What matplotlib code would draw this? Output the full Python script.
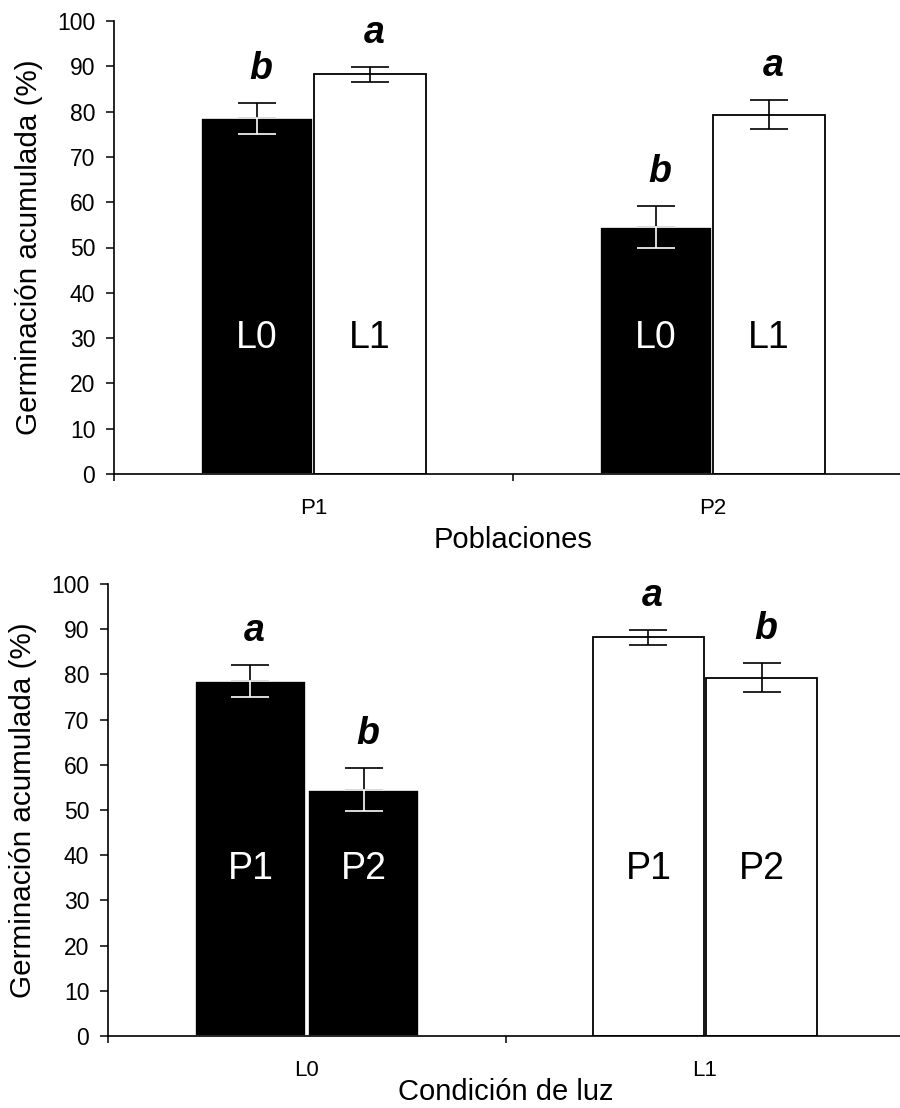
import numpy as np
import matplotlib
matplotlib.use('Agg')
from matplotlib import pyplot as plt
plt.rcParams['font.family'] = ['Liberation Sans', 'DejaVu Sans']

# datos (% germinacion acumulada, media y error)
poblaciones = ['P1', 'P2']
luz = ['L0', 'L1']
media_L0 = [78.5, 54.5]   # P1, P2
media_L1 = [88.2, 79.3]
err_L0 = [3.5, 4.7]
err_L1 = [1.7, 3.2]
letras_pob = {'L0': ['b', 'b'], 'L1': ['a', 'a']}      # panel superior
letras_luz = {'L0': ['a', 'b'], 'L1': ['a', 'b']}      # panel inferior

fig = plt.figure(figsize=(9, 11.08), dpi=100)
ax1 = fig.add_axes([114/900, 1-474/1108, 798/900, 453/1108])
ax2 = fig.add_axes([108/900, 1-1036/1108, 796/900, 452/1108])

ancho = 0.28
desp = 0.142


def barra(ax, x, y, e, negro, texto, letra, ytexto):
    if negro:
        ax.bar(x, y, ancho, color='black', edgecolor='white', linewidth=1.2, zorder=2)
        # parte superior del error en negro, inferior en blanco
        ax.errorbar(x, y, yerr=[[0], [e]], fmt='none', ecolor='black',
                    elinewidth=1.2, capsize=14, capthick=1.2, zorder=3)
        ax.errorbar(x, y, yerr=[[e], [0]], fmt='none', ecolor='white',
                    elinewidth=1.2, capsize=14, capthick=1.2, zorder=3)
        col = 'white'
    else:
        ax.bar(x, y, ancho, color='white', edgecolor='black', linewidth=1.3, zorder=2)
        ax.errorbar(x, y, yerr=e, fmt='none', ecolor='black',
                    elinewidth=1.2, capsize=14, capthick=1.2, zorder=3)
        col = 'black'
    ax.text(x, ytexto, texto, color=col, fontsize=27, ha='center', va='center', zorder=4)
    ax.text(x + 0.01, y + e + 5.3, letra, fontsize=27, fontweight='bold',
            fontstyle='italic', ha='center', va='baseline')


def ejes(ax, cats, xlabel, labelpad):
    ax.set_xlim(0, 2)
    ax.set_ylim(0, 100)
    ax.set_yticks(np.arange(0, 101, 10))
    ax.set_xticks([0, 1, 2])
    ax.set_xticklabels([])
    ax.set_xticks([0.5, 1.5], minor=True)
    ax.set_xticklabels(cats, minor=True, fontsize=16)
    ax.tick_params(axis='x', which='minor', length=0, pad=17)
    ax.tick_params(axis='x', which='major', direction='out', length=5, width=1.1)
    ax.tick_params(axis='y', direction='out', length=5.5, width=1.1, labelsize=16.5, pad=8)
    for s in ['top', 'right']:
        ax.spines[s].set_visible(False)
    for s in ['left', 'bottom']:
        ax.spines[s].set_linewidth(1.2)
    ax.set_ylabel('Germinación acumulada (%)', fontsize=21.3, labelpad=10)
    ax.set_xlabel(xlabel, fontsize=21, labelpad=labelpad)


# panel superior: por poblacion
for i in range(len(poblaciones)):
    barra(ax1, i + 0.5 - desp, media_L0[i], err_L0[i], True, 'L0', letras_pob['L0'][i], 30)
    barra(ax1, i + 0.5 + desp, media_L1[i], err_L1[i], False, 'L1', letras_pob['L1'][i], 30)
ejes(ax1, poblaciones, 'Poblaciones', 5)

# panel inferior: por condicion de luz
for i in range(len(poblaciones)):
    barra(ax2, 0.5 + (i*2-1)*desp, media_L0[i], err_L0[i], True, poblaciones[i], letras_luz['L0'][i], 37)
    barra(ax2, 1.5 + (i*2-1)*desp, media_L1[i], err_L1[i], False, poblaciones[i], letras_luz['L1'][i], 37)
ejes(ax2, luz, 'Condición de luz', -2)

plt.savefig('out.png', dpi=100)
